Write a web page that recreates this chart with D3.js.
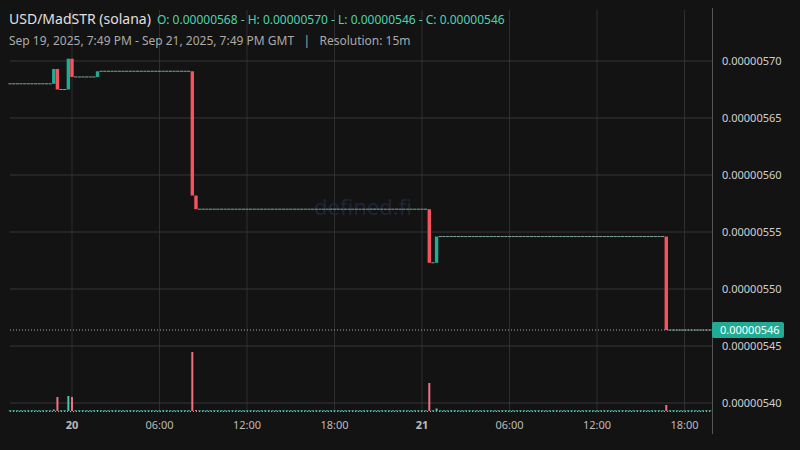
<!DOCTYPE html>
<html><head><meta charset="utf-8">
<script src="https://cdn.jsdelivr.net/npm/d3@7"></script>
<style>body{margin:0;background:#131313}svg{display:block;font-family:"Noto Sans",sans-serif}text{white-space:pre}</style>
</head><body><div id="chart"></div>
<script>
// candles: [index (15m bars from start), open, high, low, close]  (prices x1e-8)
var candles = [
  [12, 568.0, 569.3, 568.0, 569.3],
  [13, 569.3, 569.3, 567.5, 567.5],
  [16, 567.5, 570.2, 567.5, 570.2],
  [17, 570.2, 570.2, 568.6, 568.6],
  [24, 568.6, 569.1, 568.6, 569.1],
  [50, 569.1, 569.1, 558.2, 558.2],
  [51, 558.2, 558.2, 557.0, 557.0],
  [115, 557.0, 557.0, 552.3, 552.3],
  [117, 552.3, 554.6, 552.3, 554.6],
  [180, 554.6, 554.6, 546.4, 546.4]
]
// flat runs between moves: [first index, last index, price]
var flats = [
  [0, 11, 568.0], [14, 15, 567.5], [18, 23, 568.6], [25, 49, 569.1],
  [52, 114, 557.0], [116, 116, 552.3], [118, 179, 554.6], [181, 192, 546.4]
]
// volume by index (relative units)
var volumes = [[12, 1.5], [13, 14], [16, 15], [17, 14], [24, 1], [50, 59], [51, 1], [115, 28], [117, 2.5], [180, 6]]
var priceTicks = [570, 565, 560, 555, 550, 545, 540]
var lastPrice = 546.4

var W = 800, H = 450, left = 10, right = 712
var start = Date.UTC(2025, 8, 19, 19, 45)
var step = 15 * 60 * 1000

var x = d3.scaleUtc().domain([Date.UTC(2025, 8, 20), Date.UTC(2025, 8, 21)]).range([72, 422])
var y = d3.scaleLinear().domain([570, 545]).range([61, 346])
var vy = d3.scaleLinear().domain([0, 60]).range([411, 351])
var tx = function(i) { return x(new Date(start + i * step)) }

var svg = d3.select("#chart").append("svg").attr("width", W).attr("height", H)
svg.append("rect").attr("width", W).attr("height", H).attr("fill", "#131313")

// grid
var xt = [Date.UTC(2025,8,20),Date.UTC(2025,8,20,6),Date.UTC(2025,8,20,12),Date.UTC(2025,8,20,18),
          Date.UTC(2025,8,21),Date.UTC(2025,8,21,6),Date.UTC(2025,8,21,12),Date.UTC(2025,8,21,18)]
svg.selectAll(".vg").data(xt).enter().append("line")
  .attr("x1", function(d){return x(d)}).attr("x2", function(d){return x(d)})
  .attr("y1", 10).attr("y2", 413).attr("stroke", "#2e2e2e")
svg.selectAll(".hg").data(priceTicks).enter().append("line")
  .attr("x1", left).attr("x2", right).attr("y1", function(d){return y(d)}).attr("y2", function(d){return y(d)})
  .attr("stroke", "#363636")
svg.append("line").attr("x1", right + 0.5).attr("x2", right + 0.5).attr("y1", 8).attr("y2", 434).attr("stroke", "#555")

svg.append("text").attr("x", 363).attr("y", 215).attr("text-anchor", "middle")
  .attr("font-size", 22).attr("fill", "#1f2436").text("defined.fi")

// axis labels
svg.selectAll(".pl").data(priceTicks).enter().append("text")
  .attr("x", 722).attr("y", function(d){return y(d) + 4}).attr("font-size", 11).attr("fill", "#d0d0d0")
  .text(function(d){return (d / 1e8).toFixed(8)})
svg.selectAll(".tl").data(xt).enter().append("text")
  .attr("x", function(d){return x(d)}).attr("y", 429).attr("text-anchor", "middle").attr("font-size", 11)
  .attr("fill", "#bbb").attr("font-weight", function(d){return new Date(d).getUTCHours() ? "normal" : "bold"})
  .text(function(d){ var t = new Date(d); return t.getUTCHours() ? d3.utcFormat("%H:%M")(t) : t.getUTCDate() })

// volume
var volIdx = volumes.map(function(v){return v[0]})
var base = d3.range(0, 193).filter(function(i){return volIdx.indexOf(i) < 0})
svg.selectAll(".vb").data(base).enter().append("rect")
  .attr("x", function(i){return tx(i) - 1.2}).attr("width", 2.4).attr("y", 410).attr("height", 1.5).attr("fill", "#3c8f80")
svg.selectAll(".vol").data(volumes).enter().append("rect")
  .attr("x", function(d){return tx(d[0]) - 1}).attr("width", 2)
  .attr("y", function(d){return vy(d[1])}).attr("height", function(d){return 411 - vy(d[1])})
  .attr("fill", function(d){ var c = candles.find(function(k){return k[0] == d[0]}); return c && c[4] < c[1] ? "#f07080" : "#4fc3a8" })

// flat candles
flats.forEach(function(f){
  svg.selectAll(null).data(d3.range(f[0], f[1] + 1)).enter().append("line")
    .attr("x1", function(i){return tx(i) - 1.6}).attr("x2", function(i){return tx(i) + 1.6})
    .attr("y1", y(f[2])).attr("y2", y(f[2])).attr("stroke", "#7fa59c").attr("stroke-width", 1)
})

svg.selectAll(".c").data(candles).enter().append("rect")
  .attr("x", function(d){return tx(d[0]) - 1.7}).attr("width", 3.4)
  .attr("y", function(d){return y(Math.max(d[1], d[4]))})
  .attr("height", function(d){return Math.max(1, Math.abs(y(d[1]) - y(d[4])))})
  .attr("fill", function(d){return d[4] < d[1] ? "#f7525f" : "#22ab94"})

// last price
svg.append("line").attr("x1", left).attr("x2", right).attr("y1", y(lastPrice)).attr("y2", y(lastPrice))
  .attr("stroke", "#aaa").attr("stroke-dasharray", "1,2")
svg.append("line").attr("x1", left).attr("x2", right).attr("y1", 411.5).attr("y2", 411.5)
  .attr("stroke", "#aaa").attr("stroke-dasharray", "1,2")
svg.append("rect").attr("x", 712).attr("y", y(lastPrice) - 8).attr("width", 72).attr("height", 16).attr("rx", 2).attr("fill", "#22ab94")
svg.append("text").attr("x", 720).attr("y", y(lastPrice) + 4).attr("font-size", 11).attr("fill", "#fff").text((lastPrice / 1e8).toFixed(8))

// header
var h = svg.append("text").attr("x", 9).attr("y", 24)
h.append("tspan").attr("font-size", 14).attr("fill", "#e0e0e0").text("USD/MadSTR (solana)")
h.append("tspan").attr("dx", 6).attr("font-size", 12).attr("fill", "#4fd1b0")
  .text("O: 0.00000568 - H: 0.00000570 - L: 0.00000546 - C: 0.00000546")
svg.append("text").attr("x", 9).attr("y", 45).attr("font-size", 12).attr("fill", "#aaa")
  .text("Sep 19, 2025, 7:49 PM - Sep 21, 2025, 7:49 PM GMT   |   Resolution: 15m")
</script></body></html>
